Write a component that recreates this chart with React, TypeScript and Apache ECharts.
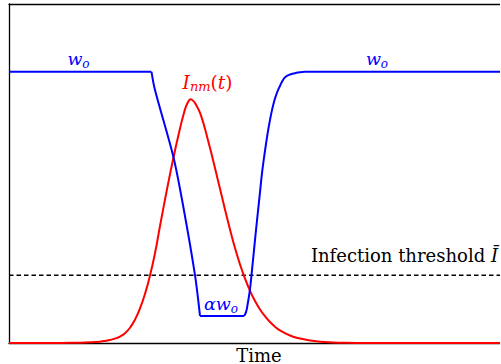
import React, { useEffect, useRef } from "react";
import * as echarts from "echarts";

// Time axis in arbitrary units (0..100), levels 0..1
// w(t): flat, decline, bottom plateau, recovery
const blueFlatT = [0, 28.5];
const blueFlatW = [0.8, 0.8];

const blueDropT = [28.5, 29.2, 32.86, 34.86, 37.2, 38.2];
const blueDropW = [0.8, 0.746, 0.55, 0.402, 0.2, 0.08];

const blueBottomT = [38.2, 47];
const blueBottomW = [0.08, 0.08];

const blueRiseT = [47, 47.4, 47.8, 48.2, 48.6, 49.0, 49.4, 49.8, 50.2, 50.6, 51.0, 51.4, 51.8, 52.2, 52.6, 53.0, 53.4, 53.8, 54.2, 54.8, 55.4, 56.2, 57.2, 58.2, 59.2, 65, 100];
const blueRiseW = [0.08, 0.091, 0.121, 0.159, 0.215, 0.274, 0.333, 0.389, 0.445, 0.501, 0.546, 0.587, 0.625, 0.658, 0.687, 0.711, 0.73, 0.746, 0.758, 0.776, 0.786, 0.792, 0.796, 0.799, 0.8, 0.8, 0.8];

// I_nm(t): infection curve
const redT = [0, 8.2, 14.2, 16.2, 18.2, 19.2, 20.2, 21.2, 22.2, 23.2, 24.2, 25.2, 26.2, 27.2, 28.2, 29.2, 30.2, 31.2, 32.2, 33.2, 34.2, 34.8, 35.4, 35.9, 36.3, 36.8, 37.4, 38.0, 38.6, 39.2, 39.8, 40.5, 41.2, 42.2, 43.2, 44.2, 45.2, 46.2, 47.2, 48.2, 49.2, 50.2, 51.2, 52.2, 53.2, 54.2, 56.2, 58.2, 60.2, 62.2, 64.2, 67.2, 72, 100];
const redI = [0, 0, 0.001, 0.002, 0.004, 0.006, 0.009, 0.013, 0.019, 0.029, 0.045, 0.069, 0.102, 0.145, 0.199, 0.265, 0.345, 0.423, 0.498, 0.568, 0.633, 0.668, 0.698, 0.713, 0.719, 0.715, 0.703, 0.686, 0.662, 0.632, 0.598, 0.558, 0.516, 0.455, 0.394, 0.335, 0.28, 0.232, 0.19, 0.154, 0.124, 0.099, 0.079, 0.062, 0.048, 0.037, 0.022, 0.013, 0.0075, 0.004, 0.002, 0.0005, 0, 0];

const thresholdT = [0, 100];
const thresholdLevel = 0.2;

const FONT = "DejaVu Serif";
const BLUE = "#0000ff";
const RED = "#ff0000";

const pairs = (xs: number[], ys: number[]) => xs.map((x, i) => [x, ys[i]]);

function mathRich(color: string, size = 17.5, sub = 12) {
  return {
    m: { fontFamily: FONT, fontStyle: "italic", fontSize: size, lineHeight: 22, fill: color },
    p: { fontFamily: FONT, fontStyle: "normal", fontSize: size, lineHeight: 22, fill: color },
    s: { fontFamily: FONT, fontStyle: "italic", fontSize: sub, lineHeight: sub, verticalAlign: "bottom", fill: color },
  };
}

const blueLine = (xs: number[], ys: number[], smooth: number | boolean) => ({
  type: "line",
  data: pairs(xs, ys),
  symbol: "none",
  smooth,
  lineStyle: { color: BLUE, width: 2 },
});

const hiddenParts = {
  axisTick: { show: false },
  axisLabel: { show: false },
  splitLine: { show: false },
};

export default function App() {
  const ref = useRef<HTMLDivElement>(null);
  useEffect(() => {
    if (!ref.current) return;
    const chart = echarts.init(ref.current, undefined, { renderer: "svg" });
    chart.setOption({
      animation: false,
      backgroundColor: "#ffffff",
      grid: {
        left: 9,
        top: 4,
        width: 500,
        height: 339,
        outerBoundsMode: "none",
        containLabel: false,
        show: false,
      },
      xAxis: [
        {
          type: "value",
          min: 0,
          max: 100,
          position: "bottom",
          axisLine: { show: true, lineStyle: { color: "#000", width: 1.3 } },
          ...hiddenParts,
          name: "Time",
          nameLocation: "middle",
          nameGap: 3,
          nameTextStyle: { fontFamily: FONT, fontSize: 18, color: "#000" },
        },
        {
          type: "value",
          min: 0,
          max: 100,
          position: "top",
          axisLine: { show: true, lineStyle: { color: "#000", width: 1.3 } },
          ...hiddenParts,
        },
      ],
      yAxis: {
        type: "value",
        min: 0,
        max: 1,
        position: "left",
        axisLine: { show: true, onZero: false, lineStyle: { color: "#000", width: 1.3 } },
        ...hiddenParts,
      },
      series: [
        {
          type: "line",
          data: thresholdT.map((t) => [t, thresholdLevel]),
          symbol: "none",
          lineStyle: { color: "#000", width: 1.5, type: [4.5, 3] },
          silent: true,
        },
        {
          type: "line",
          data: pairs(redT, redI),
          symbol: "none",
          smooth: true,
          lineStyle: { color: RED, width: 2 },
        },
        blueLine(blueFlatT, blueFlatW, false),
        blueLine(blueDropT, blueDropW, 0.3),
        blueLine(blueBottomT, blueBottomW, false),
        blueLine(blueRiseT, blueRiseW, true),
      ],
      graphic: [
        {
          type: "text",
          x: 78.5,
          y: 59,
          style: { text: "{m|w}{s|o}", rich: mathRich(BLUE), align: "center", verticalAlign: "middle" },
        },
        {
          type: "text",
          x: 377,
          y: 59,
          style: { text: "{m|w}{s|o}", rich: mathRich(BLUE), align: "center", verticalAlign: "middle" },
        },
        {
          type: "text",
          x: 207.5,
          y: 82,
          style: { text: "{m|I}{s|nm}{p|(}{m|t}{p|)}", rich: mathRich(RED, 18.5, 13), align: "center", verticalAlign: "middle" },
        },
        {
          type: "text",
          x: 221,
          y: 303.5,
          style: { text: "{m|αw}{s|o}", rich: mathRich(BLUE), align: "center", verticalAlign: "middle" },
        },
        {
          type: "text",
          x: 498,
          y: 255,
          style: { text: "{p|Infection threshold }{m|Ī}", rich: mathRich("#000", 18), align: "right", verticalAlign: "middle" },
        },
      ],
    });
    return () => chart.dispose();
  }, []);
  return (
    <div style={{ position: "fixed", left: 0, top: 0, width: 501, height: 364, overflow: "hidden", background: "#fff" }}>
      <div ref={ref} style={{ position: "absolute", left: 0, top: 0, width: 530, height: 364 }} />
      <div style={{ position: "absolute", left: 499.5, top: 0, width: 2, height: 364, background: "#fff" }} />
    </div>
  );
}
